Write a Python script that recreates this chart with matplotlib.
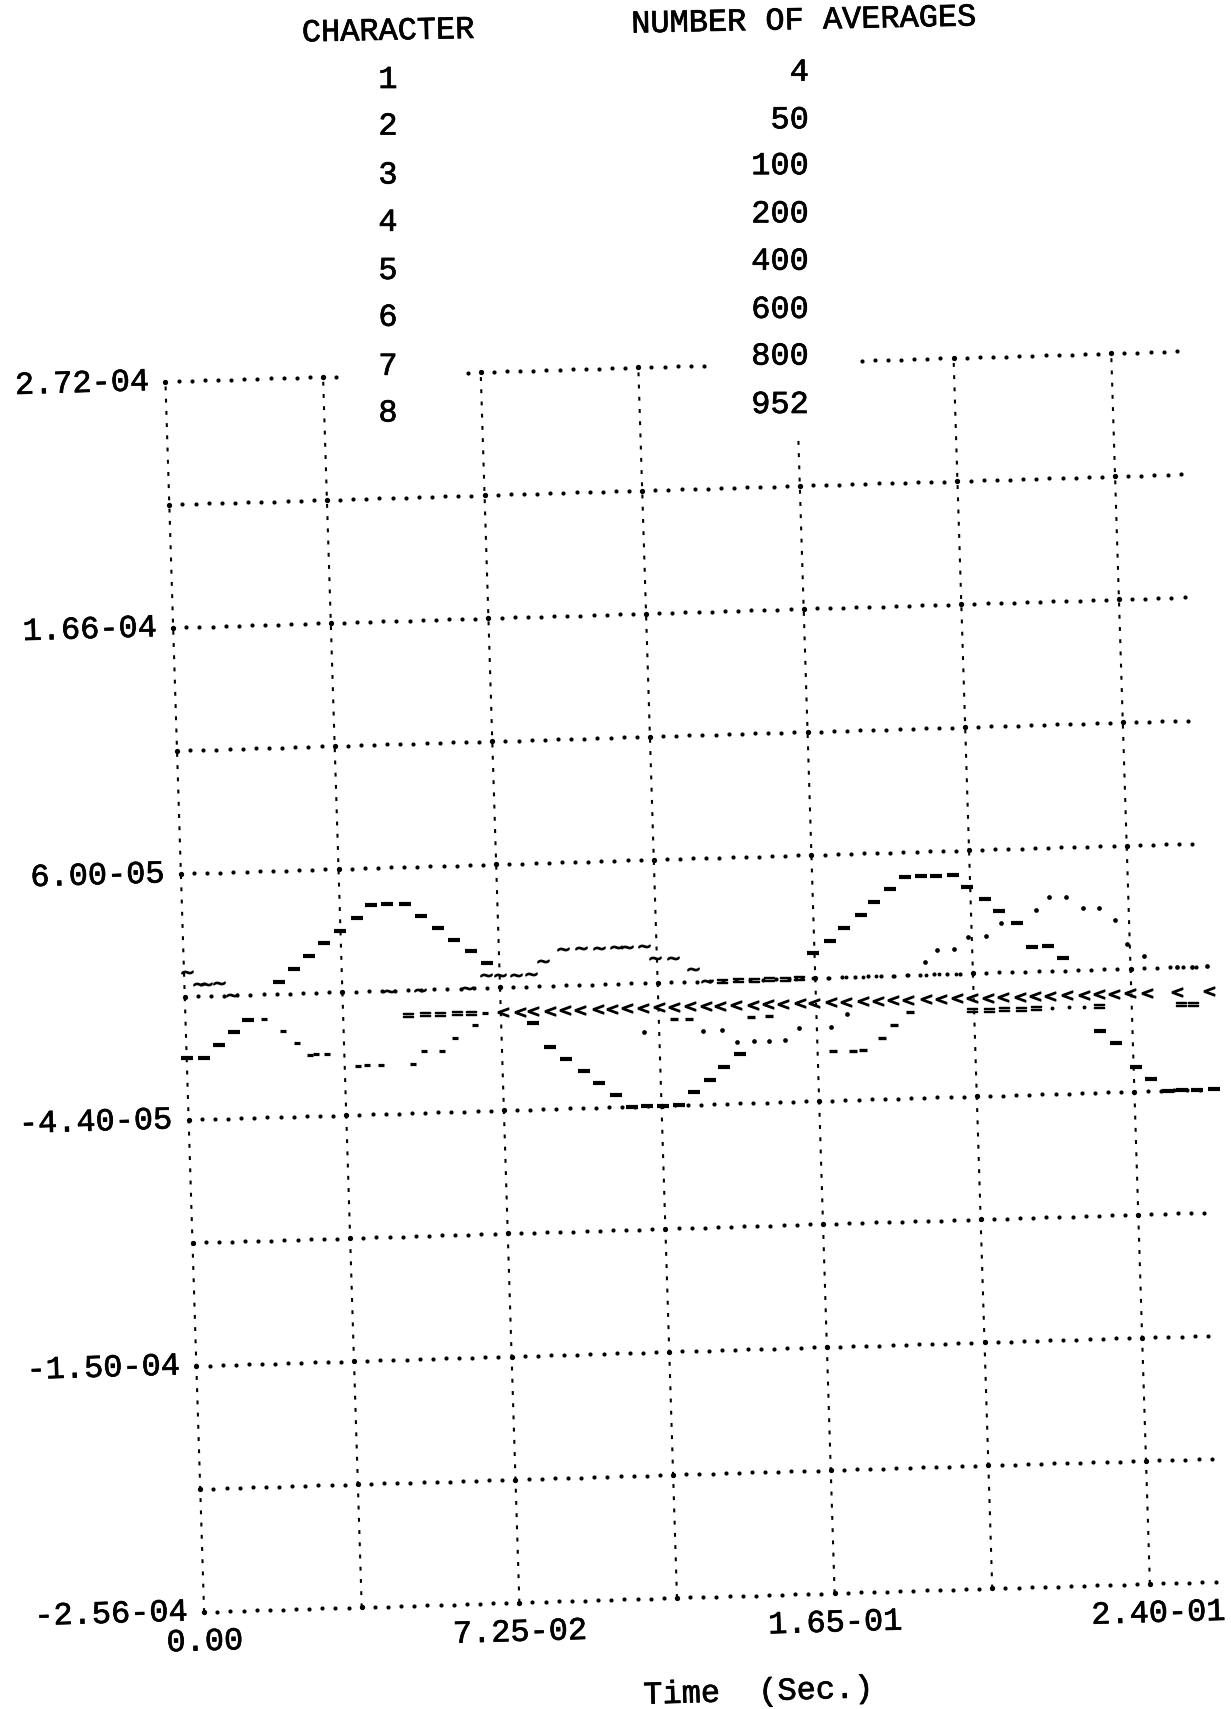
import numpy as np
import matplotlib
matplotlib.use("Agg")
import matplotlib.pyplot as plt
import matplotlib.patheffects as pe
from matplotlib.transforms import Affine2D

# 8 plotted character tracks: time (s), value (x 1e-5)
t1 = [0.0000, 0.0045, 0.0082, 0.0122, 0.0159,
      0.0240, 0.0279, 0.0318, 0.0357, 0.0400, 0.0442, 0.0480, 0.0520, 0.0565, 0.0605, 0.0647, 0.0688, 0.0729, 0.0769,
      0.0882, 0.0923, 0.0961, 0.1006, 0.1043, 0.1085, 0.1126, 0.1164, 0.1204, 0.1245, 0.1284, 0.1326, 0.1362, 0.1404,
      0.1597, 0.1640, 0.1676, 0.1720, 0.1755, 0.1797, 0.1836, 0.1876, 0.1914, 0.1957, 0.1992, 0.2036, 0.2071, 0.2116,
      0.2153, 0.2192, 0.2230,
      0.2318, 0.2358, 0.2405, 0.2442, 0.2484, 0.2522, 0.2560, 0.2602]
v1 = [-1.84, -1.84, -1.31, -0.78, -0.26,
      1.33, 1.86, 2.38, 2.91, 3.44, 3.97, 4.50, 4.50, 4.50, 3.97, 3.44, 2.91, 2.38, 1.86,
      -0.78, -1.84, -2.37, -2.90, -3.42, -3.95, -4.48, -4.48, -4.48, -4.48, -3.95, -3.42, -2.90, -2.37,
      1.86, 2.38, 2.91, 3.44, 3.97, 4.50, 5.02, 5.02, 5.02, 5.02, 4.50, 3.97, 3.44, 2.91,
      1.86, 1.86, 1.33,
      -1.84, -2.37, -3.42, -3.95, -4.48, -4.48, -4.48, -4.48]

t2 = [0.0198, 0.0246, 0.0280, 0.0312, 0.0329, 0.0357, 0.0434, 0.0456, 0.0492, 0.0574, 0.0601, 0.0648, 0.0682,
      0.0733, 0.0760]
v2 = [-0.26, -0.78, -1.31, -1.84, -1.84, -1.84, -2.37, -2.37, -2.37, -2.37, -1.84, -1.84, -1.31, -0.78, -0.26]

t3 = [0.0007, 0.0037, 0.0054, 0.0087, 0.0120, 0.0517, 0.0598, 0.0716, 0.0766, 0.0800, 0.0842, 0.0880, 0.0911,
      0.0962, 0.1008, 0.1053, 0.1096, 0.1126, 0.1168, 0.1194, 0.1241, 0.1291, 0.1325]
v3 = [1.86, 1.33, 1.33, 1.33, 0.80, 0.80, 0.80, 0.80, 1.33, 1.33, 1.33, 1.33, 1.86,
      2.38, 2.38, 2.38, 2.38, 2.38, 2.38, 1.86, 1.86, 1.33, 0.80]

t4 = [0.1162, 0.1312, 0.1359, 0.1396, 0.1439, 0.1477, 0.1517, 0.1556, 0.1636, 0.1677, 0.1879, 0.1911, 0.1955,
      0.1990, 0.2036, 0.2075, 0.2164, 0.2200, 0.2243, 0.2285, 0.2325, 0.2365, 0.2394, 0.2436, 0.2517, 0.2555, 0.2593]
v4 = [-1.31, -1.31, -1.31, -1.84, -1.84, -1.84, -1.84, -1.31, -1.31, -0.78, 1.33, 1.86, 1.86,
      2.38, 2.38, 2.91, 3.44, 3.97, 3.97, 3.44, 3.44, 2.91, 1.86, 1.33, 0.80, 0.80, 0.80]

t5 = [0.1238, 0.1277, 0.1433, 0.1480, 0.1640, 0.1690, 0.1715, 0.1765, 0.1795, 0.1838]
v5 = [-0.78, -0.78, -0.78, -0.78, -2.37, -2.37, -2.37, -1.84, -1.31, -0.78]

t6 = [0.0806, 0.0849, 0.0882, 0.0925, 0.0963, 0.1001, 0.1047, 0.1081, 0.1119, 0.1162, 0.1201, 0.1240, 0.1280,
      0.1321, 0.1355, 0.1397, 0.1440, 0.1478, 0.1517, 0.1558, 0.1596, 0.1639, 0.1677, 0.1720, 0.1758, 0.1796,
      0.1834, 0.1880, 0.1918, 0.1957, 0.1995, 0.2037, 0.2075, 0.2118, 0.2156, 0.2194, 0.2236, 0.2279, 0.2317,
      0.2355, 0.2397, 0.2440, 0.2517, 0.2597]
v6 = [-0.26, -0.26, -0.26, -0.26, -0.26, -0.26, -0.26, -0.26, -0.26, -0.26, -0.26, -0.26, -0.26,
      -0.26, -0.26, -0.26, -0.26, -0.26, -0.26, -0.26, -0.26, -0.26, -0.26, -0.26, -0.26, -0.26,
      -0.26, -0.26, -0.26, -0.26, -0.26, -0.26, -0.26, -0.26, -0.26, -0.26, -0.26, -0.26, -0.26,
      -0.26, -0.26, -0.26, -0.26, -0.26]

t7 = [0.0564, 0.0607, 0.0646, 0.0688, 0.0724, 0.1363, 0.1403, 0.1444, 0.1482, 0.1524, 0.1558,
      0.1995, 0.2037, 0.2075, 0.2118, 0.2156, 0.2317, 0.2526, 0.2555]
v7 = [-0.26, -0.26, -0.26, -0.26, -0.26, 0.80, 0.80, 0.80, 0.80, 0.80, 0.80,
      -0.78, -0.78, -0.78, -0.78, -0.78, -0.78, -0.78, -0.78]

t8 = [0.1551, 0.1593, 0.1636, 0.1678, 0.1720, 0.1755, 0.1797, 0.1836, 0.1880, 0.1914, 0.1957,
      0.2198, 0.2240, 0.2278]
v8 = [0.80, 0.80, 0.80, 0.80, 0.80, 0.80, 0.80, 0.80, 0.80, 0.80, 0.80, -0.78, -0.78, -0.78]

# legend table
characters = ['1', '2', '3', '4', '5', '6', '7', '8']
n_averages = ['4', '50', '100', '200', '400', '600', '800', '952']

# axis labels as printed
ytick_vals = [2.72e-4, 1.664e-4, 6.08e-5, -4.48e-5, -1.504e-4, -2.56e-4]
ytick_text = ['2.72-04', '1.66-04', '6.00-05', '-4.40-05', '-1.50-04', '-2.56-04']
xtick_vals = [0.0, 0.08, 0.16, 0.242]
xtick_text = ['0.00', '7.25-02', '1.65-01', '2.40-01']

W, H = 1231, 1709
plt.rcParams['font.family'] = ['Liberation Mono', 'DejaVu Sans Mono']
plt.rcParams['lines.scale_dashes'] = False
FS = 23
ink = [pe.withStroke(linewidth=0.5, foreground='k')]

fig = plt.figure(figsize=(W / 100, H / 100), dpi=100)
fig.patch.set_facecolor('white')

T_MAX = 0.24
Y_MIN, Y_MAX = -2.56e-4, 2.72e-4
PX_S = 157.7 / 0.04
PX_V = 123.1 / 5.28e-5
x0, y0 = 204.1, 97.0
ax = fig.add_axes([x0 / W, y0 / H, T_MAX * PX_S / W, (Y_MAX - Y_MIN) * PX_V / H])
ax.set_xlim(0, T_MAX)
ax.set_ylim(Y_MIN, Y_MAX)
ax.set_autoscale_on(False)
ax.set_axis_off()

# the scanned page is tilted a little
a, b = np.radians(1.71), np.radians(1.80)
skew = Affine2D(np.array([[np.cos(a), -np.sin(b), 0], [np.sin(a), np.cos(b), 0], [0, 0, 1]]))
page = Affine2D().translate(-x0, -y0) + skew + Affine2D().translate(x0, y0)
T = ax.transData + page
ROT = 1.7

# dotted grid
y_grid = Y_MAX - 5.28e-5 * np.arange(11)
x_grid = np.arange(7) * 0.04
step = 0.04 / 12
for i, yg in enumerate(y_grid):
    if i == 0:
        segs = [(0, 0.0457), (0.0735, 0.1372), (0.175, 0.2596)]
    else:
        segs = [(0, 0.258)]
    for s0, s1 in segs:
        n0 = int(np.ceil(s0 / step - 1e-6))
        n1 = int(np.floor(s1 / step + 1e-6))
        tt = np.arange(n0, n1 + 1) * step
        ax.plot(tt, np.full_like(tt, yg), ls='none', marker='o', ms=3.0, mew=0, color='k',
                transform=T, clip_on=False)
for tv in x_grid:
    top = 2.40e-4 if abs(tv - 0.16) < 1e-9 else Y_MAX
    ax.plot([tv, tv], [Y_MIN, top], ls=(0, (2.8, 6.0)), lw=1.5, color='k',
            transform=T, clip_on=False)
    ys = [yg for yg in y_grid if yg <= top]
    ax.plot(np.full(len(ys), tv), ys, ls='none', marker='o', ms=3.8, mew=0, color='k',
            transform=T, clip_on=False)

# data tracks
series = [(t1, v1), (t2, v2), (t3, v3), (t4, v4), (t5, v5), (t6, v6), (t7, v7), (t8, v8)]
marks = [dict(marker='_', ms=9, mew=3.0),
         dict(marker='_', ms=4, mew=2.3),
         dict(marker=r'$\sim$', ms=8, mew=0.9),
         dict(marker='o', ms=3.4, mew=0),
         dict(marker='_', ms=5.5, mew=2.4),
         dict(marker=r'$<$', ms=7.5, mew=1.0),
         dict(marker=r'$=$', ms=7.5, mew=1.0),
         dict(marker='o', ms=2.8, mew=0)]
for (tt, vv), mk in zip(series, marks):
    ax.plot(tt, np.array(vv) * 1e-5, ls='none', color='k', transform=T, clip_on=False, **mk)

# tick labels
for yv, s in zip(ytick_vals, ytick_text):
    ax.text(-0.0040, yv, s, ha='right', va='center', fontsize=FS, rotation=ROT,
            rotation_mode='anchor', transform=T, path_effects=ink)
for xv, s in zip(xtick_vals, xtick_text):
    ax.text(xv, -2.69e-4, s, ha='center', va='center', fontsize=FS, rotation=ROT,
            rotation_mode='anchor', transform=T, path_effects=ink)
ax.text(0.1400, -2.976e-4, 'Time  (Sec.)', ha='center', va='center', fontsize=FS,
        rotation=ROT, rotation_mode='anchor', transform=T, path_effects=ink)

# legend block (positions in image pixels)
def fpos(x, y):
    return x / W, 1 - y / H

fig.text(*fpos(388.5, 31.7), 'CHARACTER', ha='center', va='center', fontsize=FS,
         rotation=1.2, rotation_mode='anchor', path_effects=ink)
fig.text(*fpos(804.5, 21.0), 'NUMBER OF AVERAGES', ha='center', va='center', fontsize=FS,
         rotation=1.2, rotation_mode='anchor', path_effects=ink)
char_y = [80.0, 126.6, 175.5, 222.8, 271.0, 317.8, 366.8, 413.5]
avg_y = [72.7, 120.3, 166.2, 214.4, 261.7, 309.9, 356.6, 405.0]
for c, yc in zip(characters, char_y):
    fig.text(*fpos(388.0, yc), c, ha='center', va='center', fontsize=FS, path_effects=ink)
for n, yn in zip(n_averages, avg_y):
    fig.text(*fpos(809.0, yn), n, ha='right', va='center', fontsize=FS, path_effects=ink)

fig.savefig('out.png', dpi=100, facecolor='white')
